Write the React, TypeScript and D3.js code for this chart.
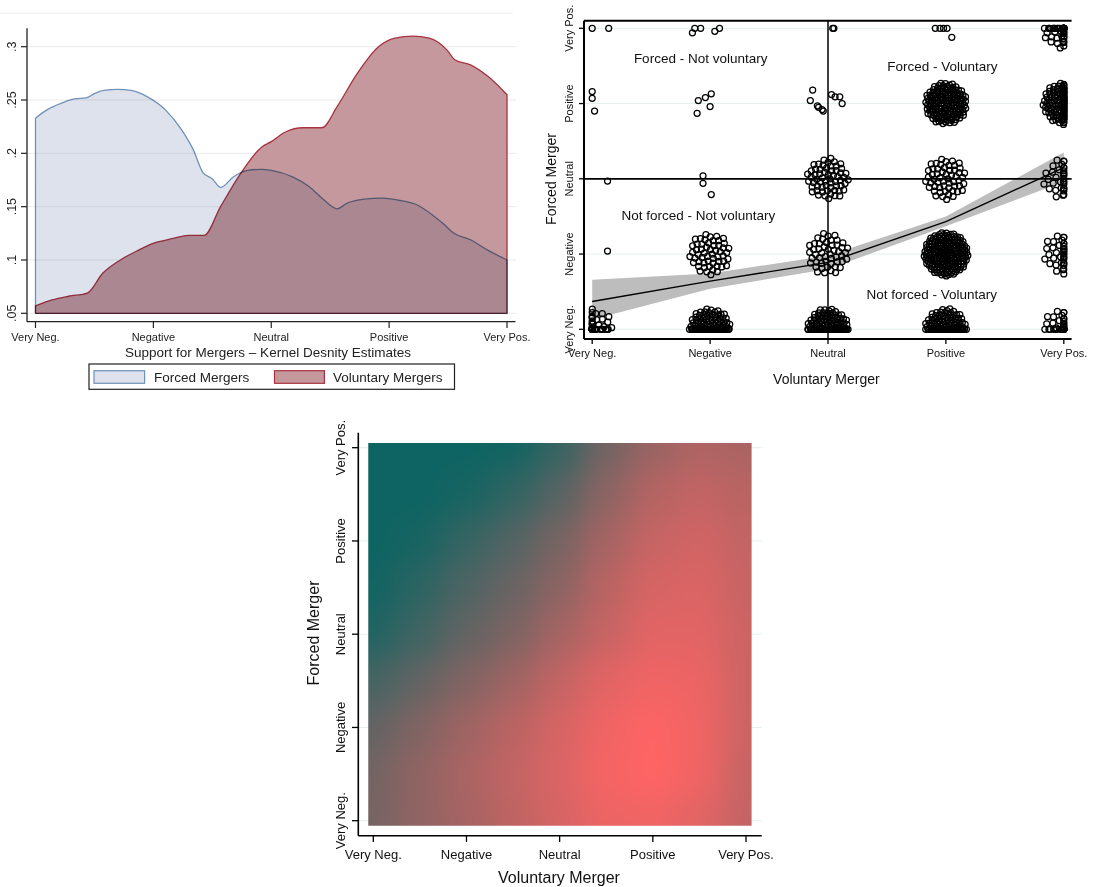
import React from "react";
import * as d3 from "d3";

const FONT = "'Liberation Sans', Arial, Helvetica, sans-serif";

// shared category labels
const levels = ["Very Neg.", "Negative", "Neutral", "Positive", "Very Pos."];
const levelValues = [1, 2, 3, 4, 5];

// ---- panel 1: kernel density estimates ----
const densityTicks = [0.05, 0.1, 0.15, 0.2, 0.25, 0.3];
const densityTickText = [".05", ".1", ".15", ".2", ".25", ".3"];

const forcedX = [1.0, 1.1, 1.22, 1.33, 1.43, 1.5, 1.58, 1.7, 1.81, 1.95, 2.1, 2.24, 2.34, 2.42, 2.5, 2.57, 2.68, 2.8, 2.92, 3.0, 3.18, 3.32, 3.44, 3.56, 3.64, 3.79, 3.94, 4.08, 4.23, 4.37, 4.46, 4.55, 4.69, 4.84, 5.0];
const forcedDensity = [0.233, 0.241, 0.247, 0.251, 0.252, 0.256, 0.259, 0.26, 0.259, 0.253, 0.241, 0.222, 0.203, 0.182, 0.176, 0.168, 0.178, 0.184, 0.185, 0.184, 0.178, 0.169, 0.157, 0.148, 0.153, 0.157, 0.158, 0.156, 0.152, 0.142, 0.134, 0.125, 0.119, 0.109, 0.1];

const voluntaryX = [1.0, 1.14, 1.28, 1.44, 1.57, 1.72, 1.87, 2.01, 2.16, 2.3, 2.43, 2.57, 2.74, 2.92, 3.0, 3.12, 3.27, 3.43, 3.56, 3.73, 3.91, 4.05, 4.2, 4.34, 4.49, 4.56, 4.69, 4.84, 5.0];
const voluntaryDensity = [0.057, 0.0625, 0.066, 0.069, 0.0875, 0.1, 0.109, 0.116, 0.12, 0.123, 0.123, 0.15, 0.181, 0.206, 0.211, 0.22, 0.224, 0.224, 0.244, 0.275, 0.3, 0.308, 0.31, 0.308, 0.297, 0.2875, 0.283, 0.272, 0.255];

// ---- panel 2: jittered scatter, forced vs voluntary ----
// single respondents read one by one
const sparseVoluntary = [1.0, 1.14, 1.85, 1.87, 1.92, 2.04, 2.08, 3.04, 3.05, 3.91, 3.95, 3.98, 4.01, 4.05,
  1.0, 1.0, 1.02, 1.89, 1.9, 1.96, 2.0, 2.01,
  2.85, 2.87, 2.91, 2.95, 2.96, 3.03, 3.06, 3.1, 3.12, 2.92,
  1.13, 1.94, 1.94, 2.01, 1.13];
const sparseForced = [5.0, 5.0, 4.94, 5.0, 5.0, 4.96, 5.0, 5.0, 5.0, 5.0, 5.0, 5.0, 5.0, 4.88,
  4.16, 4.07, 3.9, 3.87, 4.04, 4.08, 3.96, 4.13,
  4.04, 4.18, 3.97, 3.92, 3.9, 4.12, 4.09, 4.09, 4.0, 3.95,
  2.97, 3.04, 2.94, 2.79, 2.04];
// crowded cells: number of respondents per cell
const clusterVoluntary = [5, 4, 5, 3, 4, 5, 2, 3, 4, 5, 1, 2, 3, 4, 5];
const clusterForced = [5, 4, 4, 3, 3, 3, 2, 2, 2, 2, 1, 1, 1, 1, 1];
const clusterCount = [45, 140, 110, 60, 55, 32, 55, 50, 200, 35, 40, 110, 120, 115, 35];

const fitX = [1, 2, 3, 4, 5];
const fitY = [1.37, 1.64, 1.89, 2.43, 3.15];
const fitLow = [1.13, 1.54, 1.8, 2.37, 2.96];
const fitHigh = [1.66, 1.74, 1.98, 2.5, 3.35];

const quadrantText = ["Forced - Not voluntary", "Forced - Voluntary", "Not forced - Not voluntary", "Not forced - Voluntary"];
const quadrantX = [1.92, 3.97, 1.9, 3.88];
const quadrantY = [4.6, 4.49, 2.51, 1.47];

// ---- panel 3: smoothed surface ----
const gridSteps = [1, 1.5, 2, 2.5, 3, 3.5, 4, 4.5, 5];
// rows from Forced = Very Pos. (top) down to Very Neg.
const heatRows = [
  [0.0, 0.0, 0.0, 0.02, 0.17, 0.42, 0.58, 0.67, 0.65],
  [0.0, 0.0, 0.04, 0.15, 0.31, 0.52, 0.69, 0.75, 0.71],
  [0.0, 0.04, 0.17, 0.29, 0.44, 0.63, 0.77, 0.81, 0.75],
  [0.02, 0.13, 0.27, 0.38, 0.52, 0.71, 0.83, 0.85, 0.77],
  [0.08, 0.21, 0.35, 0.46, 0.63, 0.77, 0.88, 0.88, 0.79],
  [0.23, 0.35, 0.48, 0.6, 0.75, 0.88, 0.94, 0.92, 0.79],
  [0.35, 0.48, 0.6, 0.71, 0.83, 0.94, 0.99, 0.94, 0.79],
  [0.42, 0.54, 0.65, 0.75, 0.85, 0.96, 1.0, 0.94, 0.77],
  [0.44, 0.54, 0.63, 0.73, 0.83, 0.92, 0.94, 0.88, 0.75],
];

const golden = Math.PI * (3 - Math.sqrt(5));

export default function App() {
  // panel 1 scales
  const dx = d3.scaleLinear().domain([1, 5]).range([35.5, 507]);
  const dy = d3.scaleLinear().domain([0.05, 0.3]).range([313.3, 46.7]);
  const area = d3
    .area<[number, number]>()
    .x((d) => dx(d[0]))
    .y0(dy(0.05))
    .y1((d) => dy(d[1]))
    .curve(d3.curveMonotoneX);
  const forcedPts = forcedX.map((x, i) => [x, forcedDensity[i]] as [number, number]);
  const volPts = voluntaryX.map((x, i) => [x, voluntaryDensity[i]] as [number, number]);
  const forcedPath = area(forcedPts) + "Z";
  const volPath = area(volPts) + "Z";

  // panel 2 scales
  const sx = d3.scaleLinear().domain([1, 5]).range([592.2, 1063.8]);
  const sy = d3.scaleLinear().domain([1, 5]).range([329.3, 28.3]);
  const band = d3
    .area<number>()
    .x((d) => sx(d))
    .y0((d, i) => sy(fitLow[i]))
    .y1((d, i) => sy(fitHigh[i]));
  const fitLine = d3
    .line<number>()
    .x((d) => sx(d))
    .y((d, i) => sy(fitY[i]));

  const jitterPts: [number, number][] = [];
  sparseVoluntary.forEach((v, i) => jitterPts.push([sx(v), sy(sparseForced[i])]));
  clusterCount.forEach((n, c) => {
    const cx = sx(clusterVoluntary[c]);
    const cy = sy(clusterForced[c]);
    const R = n > 150 ? 22 : 21;
    for (let i = 0; i < n; i++) {
      const r = R * Math.sqrt((i + 0.5) / n);
      const a = i * golden;
      const px = Math.max(sx(1), Math.min(sx(5), cx + r * Math.cos(a)));
      const py = Math.max(sy(5), Math.min(sy(1), cy + r * Math.sin(a)));
      jitterPts.push([px, py]);
    }
  });

  // panel 3 scales
  const hx = d3.scaleLinear().domain([1, 5]).range([373.3, 746]);
  const hy = d3.scaleLinear().domain([1, 5]).range([820.7, 447.7]);
  const heatColor = d3.interpolateRgb("#0d6462", "#ff6464");
  const lastStep = gridSteps.length - 1;
  const cellLo = (j: number) => (j === 0 ? gridSteps[j] - 1.5 : gridSteps[j] - 0.25);
  const cellHi = (j: number) => (j === lastStep ? gridSteps[j] + 1.5 : gridSteps[j] + 0.25);

  return (
    <svg
      width={1094}
      height={887}
      style={{ position: "absolute", left: 0, top: 0, fontFamily: FONT }}
    >
      <defs>
        <filter
          id="heatBlur"
          filterUnits="userSpaceOnUse"
          x={200}
          y={300}
          width={700}
          height={650}
          colorInterpolationFilters="sRGB"
        >
          <feGaussianBlur stdDeviation={15} />
        </filter>
        <clipPath id="heatClip">
          <rect x={hx(0.946)} y={hy(5.05)} width={hx(5.06) - hx(0.946)} height={hy(0.946) - hy(5.05)} />
        </clipPath>
      </defs>
      <rect x={0} y={0} width={1094} height={887} fill="#fff" />

      {/* ========== panel 1 ========== */}
      <g>
        <line x1={0} x2={513} y1={13.3} y2={13.3} stroke="#f0f0f0" strokeWidth={1} />
        {densityTicks.map((t) => (
          <line key={t} x1={27} x2={516} y1={dy(t)} y2={dy(t)} stroke="#ebebeb" strokeWidth={1} />
        ))}
        <path d={volPath} fill="#c4989d" stroke="#a8323f" strokeWidth={1.3} strokeLinejoin="round" />
        <path
          d={forcedPath}
          fill="#dde2ec"
          stroke="#6f92b8"
          strokeWidth={1.3}
          strokeLinejoin="round"
          style={{ mixBlendMode: "multiply" }}
        />
        <line x1={27} x2={27} y1={28.3} y2={321.7} stroke="#222" strokeWidth={1.3} />
        <line x1={27} x2={515.5} y1={321.7} y2={321.7} stroke="#222" strokeWidth={1.3} />
        {densityTicks.map((t, i) => (
          <g key={t}>
            <line x1={21} x2={27} y1={dy(t)} y2={dy(t)} stroke="#222" strokeWidth={1.2} />
            <text
              transform={`translate(12,${dy(t)}) rotate(-90)`}
              dy="0.35em"
              textAnchor="middle"
              fontSize={12.5}
              fill="#222"
            >
              {densityTickText[i]}
            </text>
          </g>
        ))}
        {levelValues.map((v, i) => (
          <g key={v}>
            <line x1={dx(v)} x2={dx(v)} y1={321.7} y2={328} stroke="#222" strokeWidth={1.2} />
            <text x={dx(v)} y={337} dy="0.35em" textAnchor="middle" fontSize={11} fill="#222">
              {levels[i]}
            </text>
          </g>
        ))}
        <text x={268} y={352.7} dy="0.35em" textAnchor="middle" fontSize={13.5} fill="#222">
          Support for Mergers – Kernel Desnity Estimates
        </text>
        <rect x={89} y={364} width={365.5} height={25.3} fill="#fff" stroke="#222" strokeWidth={1.2} />
        <rect x={94} y={370.7} width={50.6} height={12.6} fill="#dde2ec" stroke="#6f92b8" strokeWidth={1.2} />
        <text x={154} y={377.3} dy="0.35em" fontSize={13.5} fill="#222">Forced Mergers</text>
        <rect x={274.5} y={370.7} width={49.9} height={12.6} fill="#c4989d" stroke="#a8323f" strokeWidth={1.2} />
        <text x={333} y={377.3} dy="0.35em" fontSize={13.5} fill="#222">Voluntary Mergers</text>
      </g>

      {/* ========== panel 2 ========== */}
      <g>
        {levelValues.map((v) => (
          <line key={v} x1={584} x2={1071.6} y1={sy(v)} y2={sy(v)} stroke="#e4efef" strokeWidth={1} />
        ))}
        <path d={band(fitX) || ""} fill="#bdbdbd" />
        {jitterPts.map((p, i) => (
          <circle key={i} cx={p[0]} cy={p[1]} r={3} fill="none" stroke="#000" strokeWidth={1.25} />
        ))}
        <path d={fitLine(fitX) || ""} fill="none" stroke="#000" strokeWidth={1.4} />
        {/* reference lines */}
        <line x1={sx(3)} x2={sx(3)} y1={20.7} y2={339} stroke="#000" strokeWidth={1.5} />
        <line x1={584} x2={1071.6} y1={sy(3)} y2={sy(3)} stroke="#000" strokeWidth={1.8} />
        <line x1={584} x2={1071.6} y1={20.7} y2={20.7} stroke="#000" strokeWidth={2} />
        <line x1={584} x2={584} y1={20.7} y2={339} stroke="#000" strokeWidth={2} />
        <line x1={584} x2={1071.6} y1={339} y2={339} stroke="#000" strokeWidth={2} />
        {levelValues.map((v, i) => (
          <g key={v}>
            <line x1={sx(v)} x2={sx(v)} y1={339} y2={344} stroke="#000" strokeWidth={1.3} />
            <text x={sx(v)} y={352.7} dy="0.35em" textAnchor="middle" fontSize={11} fill="#111">
              {levels[i]}
            </text>
            <line x1={579} x2={584} y1={sy(v)} y2={sy(v)} stroke="#000" strokeWidth={1.3} />
            <text
              transform={`translate(569,${sy(v)}) rotate(-90)`}
              dy="0.35em"
              textAnchor="middle"
              fontSize={11}
              fill="#111"
            >
              {levels[i]}
            </text>
          </g>
        ))}
        {quadrantText.map((q, i) => (
          <text
            key={q}
            x={sx(quadrantX[i])}
            y={sy(quadrantY[i])}
            dy="0.35em"
            textAnchor="middle"
            fontSize={13.5}
            fill="#111"
          >
            {q}
          </text>
        ))}
        <text x={826.4} y={379} dy="0.35em" textAnchor="middle" fontSize={14} fill="#111">
          Voluntary Merger
        </text>
        <text
          transform={`translate(550.6,179) rotate(-90)`}
          dy="0.35em"
          textAnchor="middle"
          fontSize={14}
          fill="#111"
        >
          Forced Merger
        </text>
      </g>

      {/* ========== panel 3 ========== */}
      <g>
        {levelValues.map((v) => (
          <line key={v} x1={358.3} x2={761.7} y1={hy(v)} y2={hy(v)} stroke="#e4efef" strokeWidth={1} />
        ))}
        <g clipPath="url(#heatClip)">
          <g filter="url(#heatBlur)">
            {heatRows.map((row, r) => {
              const j = lastStep - r; // row index to Forced grid step
              return row.map((t, c) => (
                <rect
                  key={`${r}-${c}`}
                  x={hx(cellLo(c)) - 0.5}
                  y={hy(cellHi(j)) - 0.5}
                  width={hx(cellHi(c)) - hx(cellLo(c)) + 1}
                  height={hy(cellLo(j)) - hy(cellHi(j)) + 1}
                  fill={heatColor(t)}
                />
              ));
            })}
          </g>
        </g>
        <line x1={358.3} x2={358.3} y1={432.7} y2={835.7} stroke="#000" strokeWidth={1.6} />
        <line x1={358.3} x2={761.7} y1={835.7} y2={835.7} stroke="#000" strokeWidth={1.6} />
        {levelValues.map((v, i) => (
          <g key={v}>
            <line x1={hx(v)} x2={hx(v)} y1={835.7} y2={842} stroke="#000" strokeWidth={1.3} />
            <text x={hx(v)} y={854} dy="0.35em" textAnchor="middle" fontSize={13} fill="#111">
              {levels[i]}
            </text>
            <line x1={352} x2={358.3} y1={hy(v)} y2={hy(v)} stroke="#000" strokeWidth={1.3} />
            <text
              transform={`translate(340.8,${hy(v)}) rotate(-90)`}
              dy="0.35em"
              textAnchor="middle"
              fontSize={13}
              fill="#111"
            >
              {levels[i]}
            </text>
          </g>
        ))}
        <text x={559} y={877.3} dy="0.35em" textAnchor="middle" fontSize={16} fill="#111">
          Voluntary Merger
        </text>
        <text
          transform={`translate(313.7,633) rotate(-90)`}
          dy="0.35em"
          textAnchor="middle"
          fontSize={16}
          fill="#111"
        >
          Forced Merger
        </text>
      </g>
    </svg>
  );
}
